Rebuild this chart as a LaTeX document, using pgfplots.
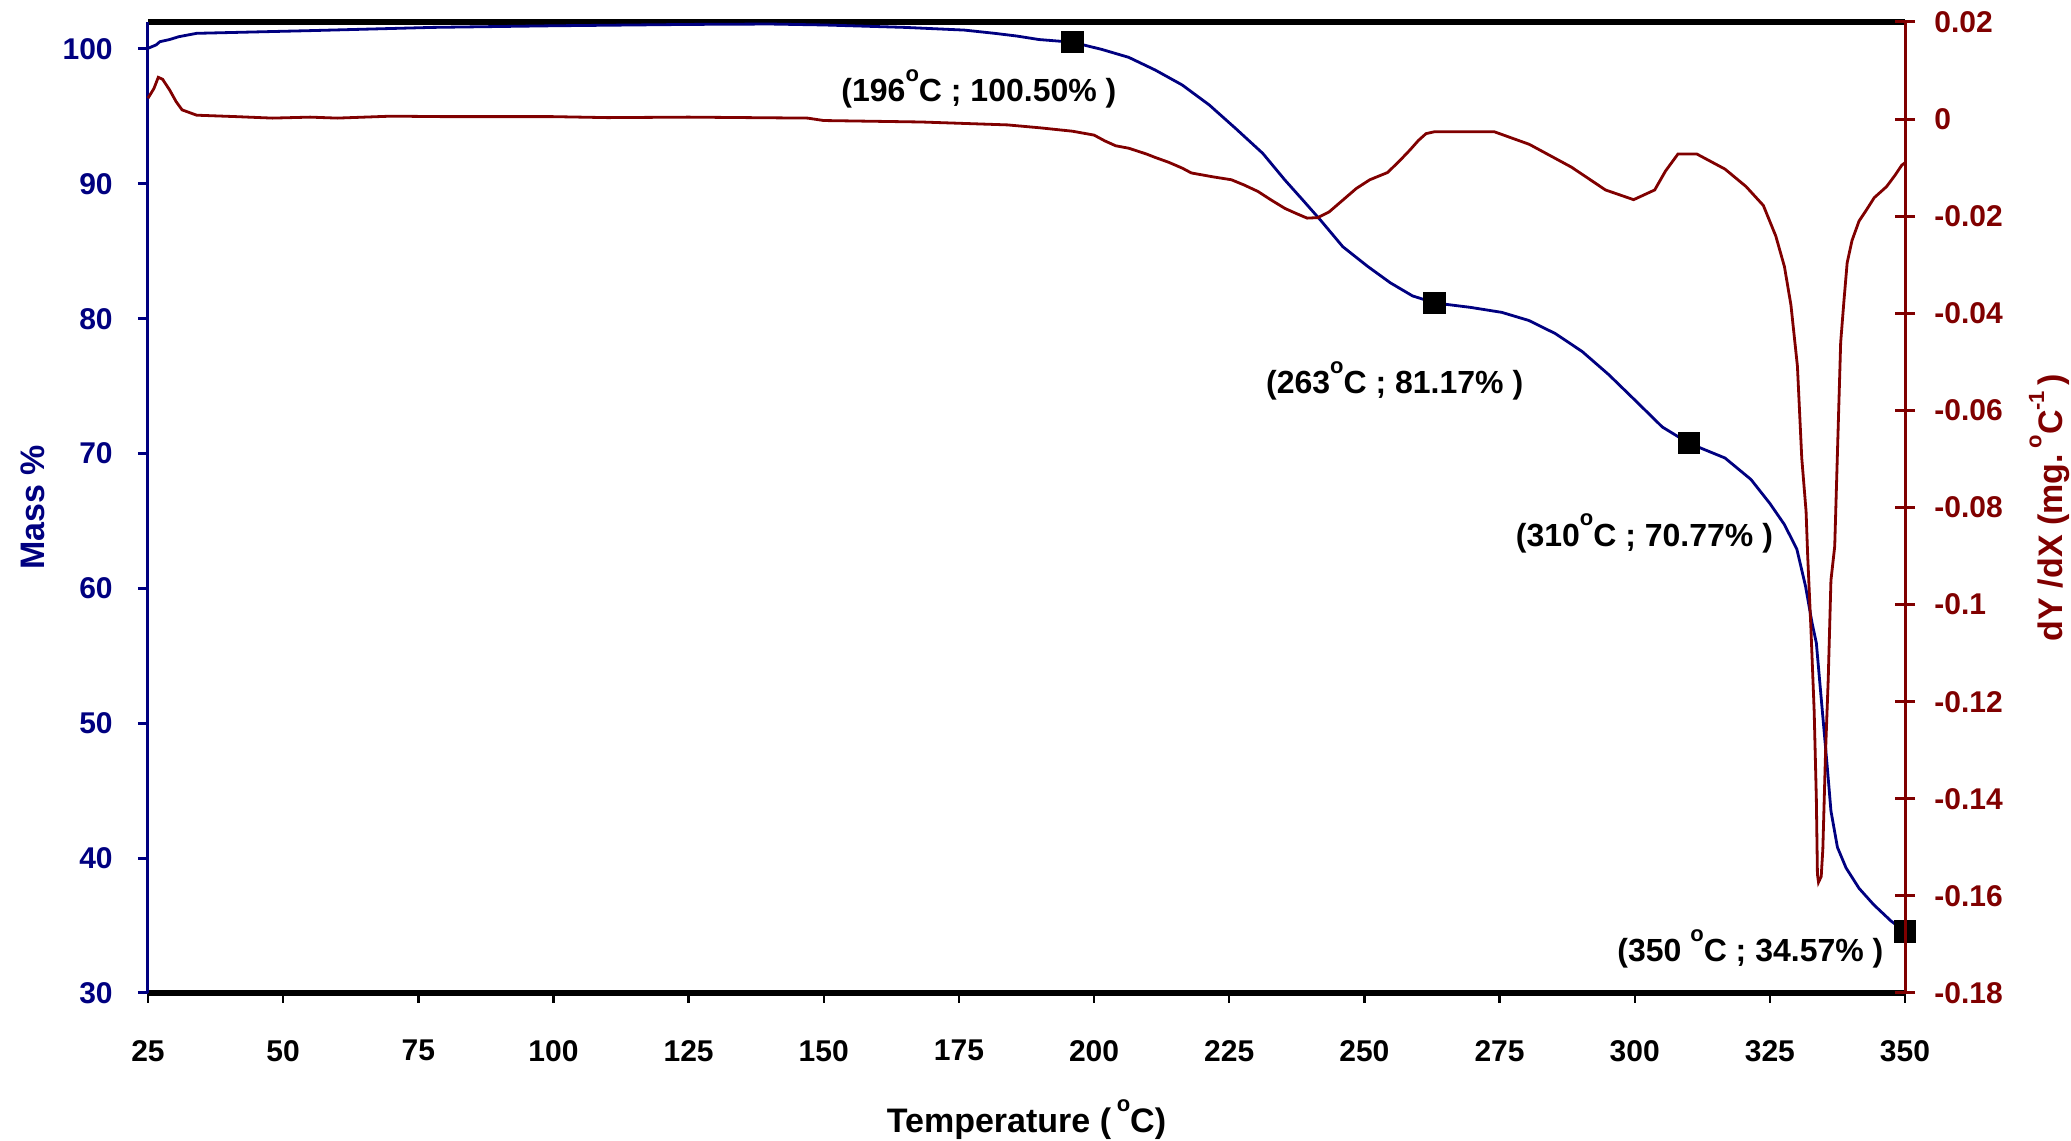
\documentclass[border=0pt]{standalone}
\usepackage{fontspec}
\setmainfont{Liberation Sans}
\usepackage{pgfplots}
\pgfplotsset{compat=1.18}
\definecolor{navyb}{RGB}{0,0,128}
\definecolor{dred}{RGB}{128,0,0}
\newcommand{\dg}{\raisebox{5.2pt}{\fontsize{5.5}{5.5}\selectfont o}}

\pgfplotstableread{
T M
25 100.05
26.5 100.3
27.2 100.54
29 100.7
30.7 100.91
34 101.16
55 101.36
77.7 101.6
100 101.72
125 101.82
140 101.85
150 101.78
165 101.6
176 101.4
181.6 101.16
185.7 100.96
189.8 100.7
196 100.5
201.4 99.97
206.4 99.38
211.3 98.44
216.3 97.33
221.3 95.85
226.2 94.1
231.2 92.26
235.3 90.28
238.6 88.8
241.9 87.3
246 85.34
250.6 83.88
254.8 82.66
258.9 81.69
263 81.17
269.6 80.84
275.4 80.47
280.4 79.87
285.3 78.9
290.3 77.56
295.2 75.85
300.2 73.9
305.1 71.97
310 70.77
316.7 69.67
321.5 68.08
325 66.3
327.7 64.73
330.0 62.9
331.6 60.16
332.8 57.45
333.6 55.95
334.4 52.3
335.0 49.58
335.6 46.85
336.3 43.5
337.5 40.8
339.1 39.27
341.5 37.76
344.2 36.55
347.4 35.34
350 34.57
}\mass

\pgfplotstableread{
T D
25 0.0043
26.1 0.0063
26.9 0.0086
27.7 0.0082
29.0 0.0060
30.2 0.0036
31.3 0.0019
34.0 0.0008
41.4 0.0005
48 0.0002
55 0.0004
60 0.0002
70 0.0006
80 0.0005
100 0.0005
110 0.0003
125 0.0004
147 0.0002
150 -0.0003
168 -0.0006
184 -0.0012
190 -0.0018
196 -0.0025
200 -0.0033
202 -0.0045
204 -0.0055
206.4 -0.0060
209.7 -0.0072
211.3 -0.0079
213.8 -0.0089
216.3 -0.0101
218 -0.0111
222 -0.0119
225.4 -0.0125
227.8 -0.0136
230.3 -0.0149
232.8 -0.0167
235.3 -0.0184
237.3 -0.0194
239.4 -0.0204
241.4 -0.0203
243.5 -0.0191
246 -0.0167
248.5 -0.0143
251 -0.0125
254.3 -0.0110
256.6 -0.0085
258.4 -0.0064
260 -0.0044
261.4 -0.0030
263 -0.0026
274 -0.0026
280.5 -0.0052
288.3 -0.0099
294.6 -0.0146
299.8 -0.0166
303.7 -0.0146
305.7 -0.0107
308 -0.0072
311.5 -0.0072
316.7 -0.0103
320.6 -0.0139
323.8 -0.0178
326.1 -0.0241
327.7 -0.0304
328.9 -0.0383
330.1 -0.0509
330.9 -0.0698
331.7 -0.0808
332.0 -0.0900
332.6 -0.1050
333.2 -0.1220
333.6 -0.1400
333.8 -0.1555
334.0 -0.1572
334.5 -0.1560
334.8 -0.1504
335.3 -0.1305
335.8 -0.1153
336.3 -0.0950
337.0 -0.0880
337.6 -0.0650
338.1 -0.0460
338.7 -0.0375
339.3 -0.0296
340.2 -0.0250
341.5 -0.0210
342.7 -0.0190
344.3 -0.0162
346.6 -0.0139
348.2 -0.0115
349.4 -0.0095
350 -0.0090
}\dtg

\begin{document}
\begin{tikzpicture}
\begin{axis}[name=a1, at={(0pt,0pt)}, anchor=south west,
  scale only axis, width=439.25pt, height=242.75pt,
  xmin=25, xmax=350, ymin=30, ymax=102,
  axis x line*=box, axis y line*=left,
  x axis line style={black, line width=1.5pt, -},
  y axis line style={navyb, line width=0.75pt, -},
  xtick={25,50,...,350}, ytick={30,40,...,100},
  xtick pos=bottom, ytick pos=left, tick align=outside,
  major tick length=2.5pt,
  xtick style={black, line width=0.6pt},
  ytick style={navyb, line width=0.75pt},
  /pgf/number format/assume math mode=true,
  tick label style={font=\bfseries\fontsize{7.5}{9}\selectfont},
  xticklabel style={text=black, yshift=-5.8pt},
  yticklabel style={text=navyb, xshift=-2.8pt},
  xlabel={Temperature (\,\dg C)},
  xlabel style={font=\bfseries\fontsize{8.5}{10}\selectfont, text=black,
    at={(axis description cs:0.5,0)}, anchor=center, yshift=-31.75pt},
  ylabel={Mass \%},
  ylabel style={font=\bfseries\fontsize{8.5}{10}\selectfont, text=navyb,
    at={(axis description cs:-0.0657,0.5)}, anchor=center, rotate=0},
  clip=false]
\addplot[navyb, line width=0.7pt] table[x=T,y=M] {\mass};
\addplot[only marks, mark=square*, mark size=2.6pt, black] coordinates {
  (196,100.5) (263,81.17) (310,70.77) (350,34.57)};
\begin{scope}[every node/.style={font=\bfseries\fontsize{8}{9}\selectfont, anchor=base}]
\node at (axis cs:178.7,96.07) {(196\dg C ; 100.50\% )};
\node at (axis cs:255.6,74.42) {(263\dg C ; 81.17\% )};
\node at (axis cs:301.8,63.09) {(310\dg C ; 70.77\% )};
\node at (axis cs:321.4,32.30) {(350 \dg C ; 34.57\% )};
\end{scope}
\end{axis}
\begin{axis}[at={(0pt,0pt)}, anchor=south west,
  scale only axis, width=439.25pt, height=242.75pt,
  xmin=25, xmax=350, ymin=-0.18, ymax=0.02,
  axis x line=none, axis y line*=right,
  y axis line style={dred, line width=0.75pt, -},
  ytick={-0.18,-0.16,-0.14,-0.12,-0.1,-0.08,-0.06,-0.04,-0.02,0,0.02},
  yticklabels={-0.18,-0.16,-0.14,-0.12,-0.1,-0.08,-0.06,-0.04,-0.02,0,0.02},
  tick align=center, major tick length=5pt,
  ytick style={dred, line width=0.75pt},
  yticklabel style={font=\bfseries\fontsize{7.5}{9}\selectfont, text=dred, xshift=1.3pt},
  ylabel={dY /dX (mg.\,\dg C\raisebox{4.5pt}{\fontsize{5.5}{5.5}\selectfont -1}\,)},
  ylabel style={font=\bfseries\fontsize{8.5}{10}\selectfont, text=dred,
    at={(axis description cs:1.082,0.5)}, anchor=center},
  clip=false]
\addplot[dred, line width=0.7pt] table[x=T,y=D] {\dtg};
\end{axis}
\pgfresetboundingbox
\path (a1.south west) ++(-37pt,-37pt) rectangle ++(517.75pt,285.25pt);
\end{tikzpicture}
\end{document}
